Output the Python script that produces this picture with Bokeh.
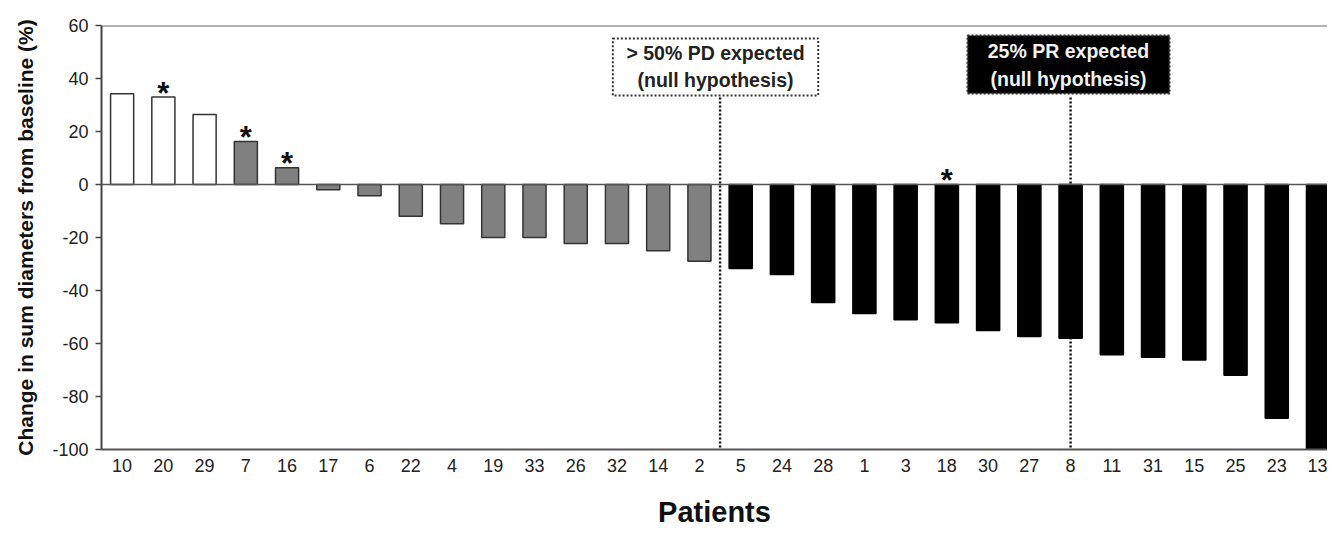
from bokeh.plotting import figure
from bokeh.models import Range1d, FixedTicker, Span, ColumnDataSource
from bokeh.core.properties import value
from bokeh.embed import file_html
from bokeh.resources import INLINE

# ---- data ----
patients = ["10", "20", "29", "7", "16", "17", "6", "22", "4", "19", "33", "26", "32", "14", "2",
            "5", "24", "28", "1", "3", "18", "30", "27", "8", "11", "31", "15", "25", "23", "13"]
change = [34.2, 33.0, 26.4, 16.2, 6.3, -2.0, -4.2, -12.0, -14.8, -20.0, -20.0, -22.3, -22.3, -25.0, -29.0,
          -31.7, -34.0, -44.5, -48.7, -51.0, -52.2, -55.1, -57.4, -58.0, -64.2, -65.2, -66.2, -72.0, -88.2, -100.0]
group = ["PD", "PD", "PD", "SD", "SD", "SD", "SD", "SD", "SD", "SD", "SD", "SD", "SD", "SD", "SD",
         "PR", "PR", "PR", "PR", "PR", "PR", "PR", "PR", "PR", "PR", "PR", "PR", "PR", "PR", "PR"]
starred = ["20", "7", "16", "18"]
y_ticks = [-100, -80, -60, -40, -20, 0, 20, 40, 60]
box1_lines = ["> 50% PD expected", "(null hypothesis)"]
box2_lines = ["25% PR expected", "(null hypothesis)"]

FONT = "Liberation Sans"
fill_map = {"PD": "#ffffff", "SD": "#808080", "PR": "#000000"}
line_map = {"PD": "#333333", "SD": "#333333", "PR": "#000000"}

xs = [i + 0.5 for i in range(len(patients))]
src = ColumnDataSource(dict(
    x=xs, top=[max(v, 0) for v in change], bottom=[min(v, 0) for v in change],
    fill=[fill_map[g] for g in group], line=[line_map[g] for g in group]))

p = figure(frame_width=1226, frame_height=424, output_backend="svg", toolbar_location=None,
           x_range=Range1d(0, 29.73), y_range=Range1d(-100, 60),
           min_border_left=101, min_border_top=25, min_border_right=0, min_border_bottom=0)
p.outline_line_color = None
p.xgrid.visible = False
p.ygrid.visible = False
p.background_fill_color = "white"

# reference lines
p.add_layout(Span(location=60, dimension="width", line_color="#666666", line_width=2))
p.add_layout(Span(location=0, dimension="width", line_color="#555555", line_width=1.5))

# dotted dividers (behind bars)
i_div = patients.index("5")
i_pr = patients.index("8")
p.segment(x0=[i_div, i_pr + 0.5], y0=[32.8, 32.8], x1=[i_div, i_pr + 0.5], y1=[-100, -100],
          line_color="#111111", line_width=2.5, line_dash="2 2")

p.vbar(x="x", top="top", bottom="bottom", width=0.56, source=src,
       fill_color="fill", line_color="line", line_width=1.5)

# asterisks
sx = [xs[patients.index(s)] for s in starred]
sy = [max(change[patients.index(s)], 0) for s in starred]
p.text(x=sx, y=sy, text=["*"] * len(sx), text_align="center", text_baseline="alphabetic",
       y_offset=-4, text_font=value(FONT), text_font_style="bold", text_font_size="31px",
       text_color="#111111")

# annotation boxes
p.quad(left=[12.4], right=[17.38], top=[55.1], bottom=[33.6], fill_color="white",
       line_color="#333333", line_width=2, line_dash="2 2")
p.quad(left=[21.0], right=[25.9], top=[56.2], bottom=[34.3], fill_color="black",
       line_color="#333333", line_width=2, line_dash="2 2")
c1 = (12.4 + 17.38) / 2
c2 = (21.0 + 25.9) / 2
p.text(x=[c1, c1], y=[49.6, 39.4], text=box1_lines, text_align="center", text_baseline="middle",
       text_font=value(FONT), text_font_style="bold", text_font_size="19.5px", text_color="#222222")
p.text(x=[c2, c2], y=[50.3, 40.0], text=box2_lines, text_align="center", text_baseline="middle",
       text_font=value(FONT), text_font_style="bold", text_font_size="19.5px", text_color="#f2f2f2")

# axes
p.xaxis.ticker = FixedTicker(ticks=xs)
p.xaxis.major_label_overrides = {x: lab for x, lab in zip(xs, patients)}
p.xaxis.major_tick_out = 0
p.xaxis.major_tick_in = 0
p.xaxis.minor_tick_line_color = None
p.xaxis.axis_line_color = "#555555"
p.xaxis.axis_line_width = 2
p.xaxis.major_label_standoff = 9
p.xaxis.major_label_text_font = FONT
p.xaxis.major_label_text_font_size = "18px"
p.xaxis.major_label_text_color = "#222222"
p.xaxis.axis_label = "Patients"
p.xaxis.axis_label_text_font = FONT
p.xaxis.axis_label_text_font_style = "bold"
p.xaxis.axis_label_text_font_size = "29px"
p.xaxis.axis_label_text_color = "#111111"
p.xaxis.axis_label_standoff = 21

p.yaxis.ticker = FixedTicker(ticks=y_ticks)
p.yaxis.major_label_overrides = {t: str(t) for t in y_ticks}
p.yaxis.major_tick_out = 6
p.yaxis.major_tick_in = 0
p.yaxis.major_tick_line_color = "#444444"
p.yaxis.major_tick_line_width = 1.5
p.yaxis.minor_tick_line_color = None
p.yaxis.axis_line_color = "#444444"
p.yaxis.axis_line_width = 2
p.yaxis.major_label_standoff = 7
p.yaxis.major_label_text_font = FONT
p.yaxis.major_label_text_font_size = "18px"
p.yaxis.major_label_text_color = "#222222"
p.yaxis.axis_label = "Change in sum diameters from baseline (%)"
p.yaxis.axis_label_text_font = FONT
p.yaxis.axis_label_text_font_style = "bold"
p.yaxis.axis_label_text_font_size = "21px"
p.yaxis.axis_label_text_color = "#111111"
p.yaxis.axis_label_standoff = 12

open("out.html", "w").write(file_html(p, INLINE))
